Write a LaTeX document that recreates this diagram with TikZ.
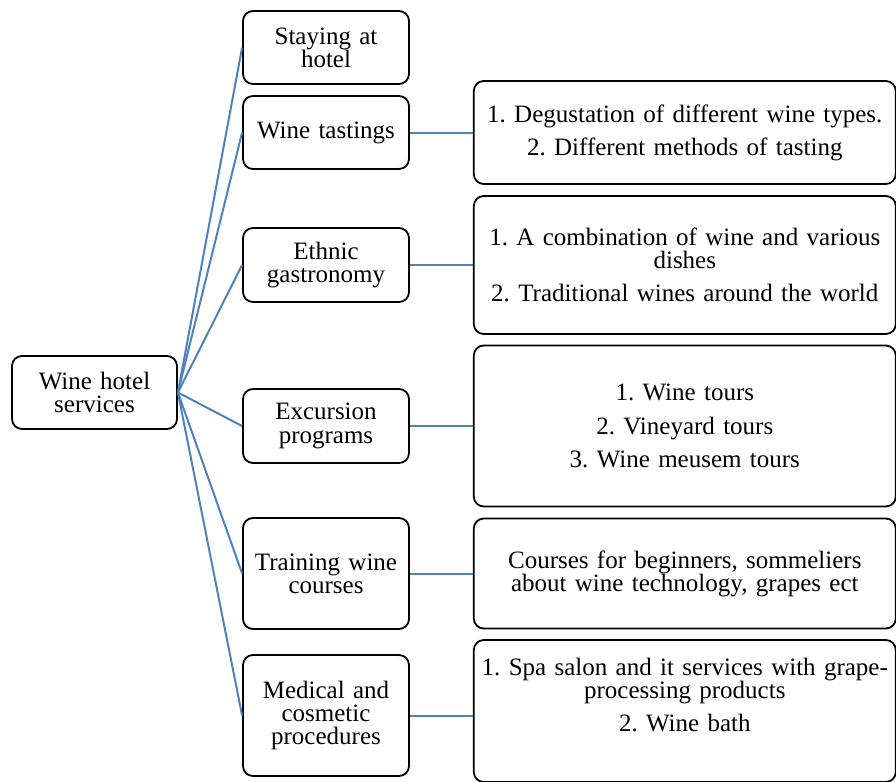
\documentclass[tikz,border=0pt]{standalone}
\usepackage{fontspec}
\setmainfont{Liberation Serif}
\frenchspacing
\usetikzlibrary{positioning}
\definecolor{linkblue}{RGB}{79,129,189}

\begin{document}
\begin{tikzpicture}[
    x=0.5pt, y=-0.5pt,
    node distance=31.5pt,
    service/.style={rectangle, draw, line width=0.9pt, rounded corners=5pt, text width=78pt, align=center, minimum width=83pt, minimum height=36.5pt, inner sep=2pt, font=\fontsize{12.5}{11.6}\selectfont},
    detail/.style={rectangle, draw, line width=0.9pt, rounded corners=5pt, text width=206pt, align=center, minimum width=211pt, inner sep=2pt, font=\fontsize{12.5}{11.6}\selectfont},
    link/.style={draw=linkblue, line width=1pt}
]
\useasboundingbox (0,0) rectangle (896,782);

\node[service, minimum width=82.5pt] (root) at (94.5,392.5) {Wine hotel\\services};

\node[service] (staying) at (326,47.5) {Staying at\\hotel};
\node[service] (tasting) at (326,132.5) {Wine tastings};
\node[service, minimum height=37pt] (ethnic) at (326,265) {Ethnic\\gastronomy};
\node[service, minimum height=37pt] (excursion) at (326,426) {Excursion\\programs};
\node[service, minimum height=55.5pt] (training) at (326,573.5) {Training wine\\courses};
\node[service, minimum height=60.5pt] (medical) at (326,715.5) {Medical and\\cosmetic\\procedures};

\node[detail, minimum height=51.5pt, right=of tasting] (degust) {1. Degustation of different wine types.\\[5pt]2. Different methods of tasting};
\node[detail, minimum height=69pt, right=of ethnic] (dishes) {1. A combination of wine and various\\dishes\\[5pt]2. Traditional wines around the world};
\node[detail, minimum height=80.5pt, right=of excursion] (tours) {1. Wine tours\\[5pt]2. Vineyard tours\\[5pt]3. Wine meusem tours};
\node[detail, minimum height=55pt, right=of training] (courses) {Courses for beginners, sommeliers\\about wine technology, grapes ect};
\node[detail, text height=15.5pt, text depth=51.5pt, right=of medical, yshift=2.25pt] (spa) {1. Spa salon and it services with grape-\\processing products\\[5pt]2. Wine bath};

% root to services
\foreach \s in {staying, tasting, ethnic, excursion, training, medical}
    \draw[link] (root.east) -- (\s.west);

% services to details
\draw[link] (tasting.east) -- (degust.west);
\draw[link] (ethnic.east) -- (dishes.west);
\draw[link] (excursion.east) -- (tours.west);
\draw[link] (training.east) -- (courses.west);
\draw[link] (medical.east) -- (medical.east -| spa.west);

\end{tikzpicture}
\end{document}
